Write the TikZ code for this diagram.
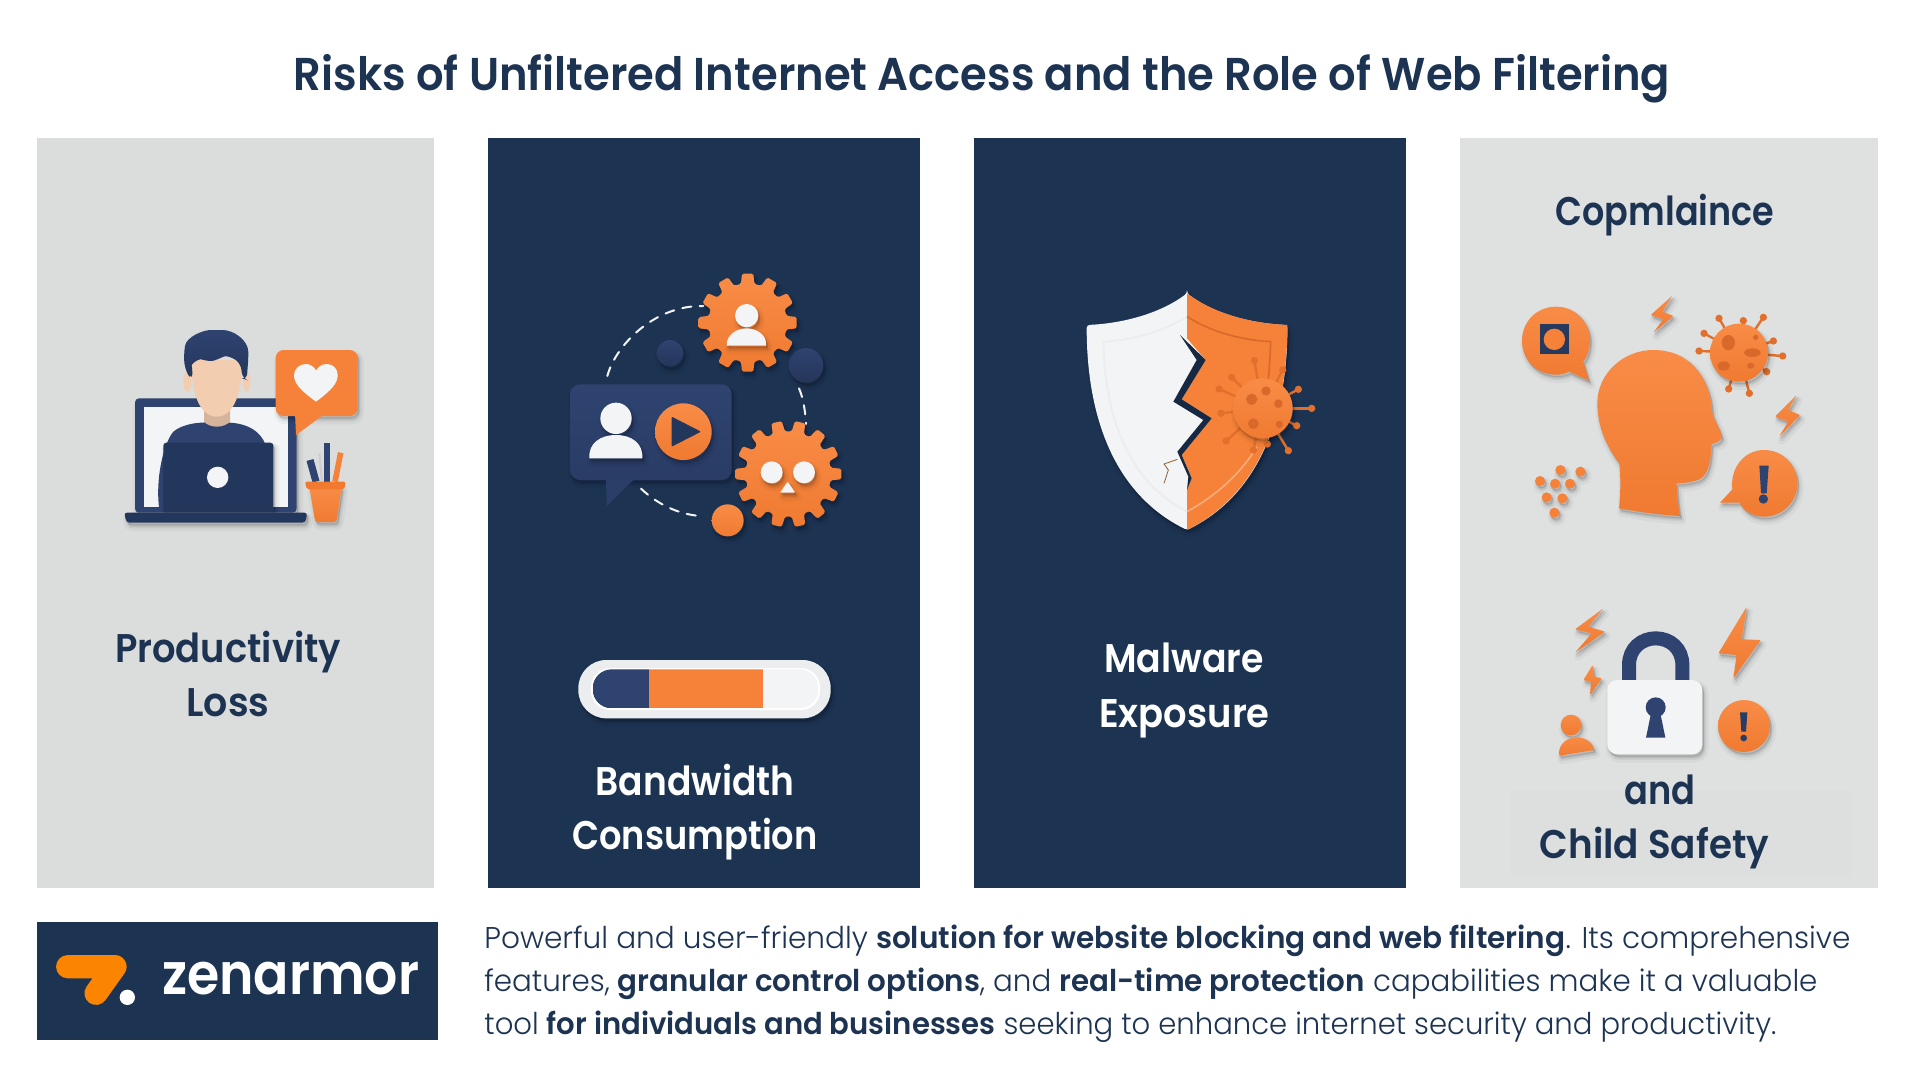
\documentclass[tikz,border=0pt]{standalone}
\usepackage{fontspec}
\setmainfont{Poppins}[BoldFont={Poppins SemiBold}]
\newfontfamily\headf{Poppins SemiBold}
\newfontfamily\bodyf{Poppins Light}[BoldFont={Poppins SemiBold}]
\definecolor{navy}{HTML}{1D3352}
\definecolor{iconblue}{HTML}{2E4370}
\definecolor{iconblueB}{HTML}{23365C}
\definecolor{panelgrey}{HTML}{DBDCDC}
\definecolor{panelgreyL}{HTML}{DFE0E0}
\definecolor{panelgreyM}{HTML}{DDDEDE}
\definecolor{org}{HTML}{F58238}
\definecolor{orgT}{HTML}{F88C47}
\definecolor{orgB}{HTML}{F07A30}
\definecolor{orgD}{HTML}{D9692A}
\definecolor{orgS}{HTML}{E2702C}
\definecolor{logoorg}{HTML}{FB8500}
\definecolor{wht}{HTML}{F3F4F5}
\definecolor{peach}{HTML}{F2CDB0}
\newcommand{\fitw}[2]{\resizebox{#1}{\height}{#2}}
\tikzset{
 zm/.style 2 args={shift={(#1,#2)},x=0.16667pt,y=-0.16667pt},
 soft/.style={
  preaction={transform canvas={xshift=1.2pt,yshift=-2.2pt},draw=black,fill=black,opacity=.035,line width=4pt,line join=round},
  preaction={transform canvas={xshift=1pt,yshift=-1.8pt},draw=black,fill=black,opacity=.05,line width=2pt,line join=round},
  preaction={transform canvas={xshift=.6pt,yshift=-1pt},draw=black,fill=black,opacity=.07,line width=.6pt,line join=round}},
 orgfill/.style={top color=orgT,bottom color=orgB},
 blufill/.style={top color=iconblue,bottom color=iconblueB},
 title/.style={inner sep=0pt,anchor=base,text=navy,font=\headf\fontsize{23pt}{28pt}\selectfont},
 label/.style={inner sep=0pt,anchor=base,font=\headf\fontsize{20pt}{25pt}\selectfont},
 bodyline/.style={inner sep=0pt,anchor=base west,text=navy,font=\bodyf\fontsize{15pt}{20pt}\selectfont},
 dashline/.style={draw=wht,line width=1pt,dash pattern=on 4.6pt off 4.2pt,line cap=round},
}
% gear: cx cy R r n options
\newcommand{\gear}[6]{%
 \pgfmathsetmacro{\gst}{360/#5}%
 \path[#6,rounded corners=.8pt,shift={(#1,#2)}] ({-.33*\gst}:#4)
  \foreach \gi in {1,...,#5}{ -- ({(\gi-1)*\gst-.33*\gst}:#4) -- ({(\gi-1)*\gst-.22*\gst}:#3) -- ({(\gi-1)*\gst+.22*\gst}:#3) -- ({(\gi-1)*\gst+.33*\gst}:#4)} -- cycle;}
\newcommand{\spike}[4]{\draw[orgS,line width=1.2pt] (#1,#2) -- (#3,#4); \fill[orgS] (#3,#4) circle (11);}
\begin{document}
\begin{tikzpicture}[x=0.5pt,y=-0.5pt]
\useasboundingbox (0,0) rectangle (1920,1080);
\fill[white] (0,0) rectangle (1920,1080);
% panels
\fill[panelgrey] (37,138) rectangle (433.5,888);
\fill[navy] (488,138) rectangle (920,888);
\fill[navy] (973.5,138) rectangle (1406,888);
\fill[panelgreyL] (1460,138) rectangle (1878,888);
\fill[panelgreyM] (1510,790) rectangle (1852,875);
% title
\node[title] (ttl) at (982,91) {\fitw{688pt}{Risks of Unfiltered Internet Access and the Role of Web Filtering}};
% panel labels
\node[label,text=navy] (p1a) at (228,662) {\fitw{113pt}{Productivity}};
\node[label,text=navy] (p1b) at (228,716) {\fitw{41.5pt}{Loss}};
\node[label,text=white] (p2a) at (695,795) {\fitw{99.3pt}{Bandwidth}};
\node[label,text=white] (p2b) at (695,849) {\fitw{122.5pt}{Consumption}};
\node[label,text=white] (p3a) at (1184,672) {\fitw{79.7pt}{Malware}};
\node[label,text=white] (p3b) at (1184.5,727) {\fitw{85.2pt}{Exposure}};
\node[label,text=navy] (p4a) at (1665,226) {\fitw{109.2pt}{Copmlaince}};
\node[label,text=navy] (p4b) at (1660,804) {\fitw{35.5pt}{and}};
\node[label,text=navy] (p4c) at (1654.5,858) {\fitw{114.6pt}{Child Safety}};
% logo
\fill[navy] (37,922) rectangle (438,1040);
\begin{scope}[zm={20}{910}]
\draw[logoorg,line width=11.6pt,line cap=round,line join=round] (143,170) -- (285,170) -- (228,250);
\fill[white] (322,262) circle (23);
\node[inner sep=0pt,anchor=south west,text=white,font=\headf\fontsize{29pt}{30pt}\selectfont] (logo) at (425,257) {\resizebox{128.6pt}{16.2pt}{zenarmor}};
\end{scope}
% body text
\node[bodyline] (l1) at (484,948) {\fitw{683pt}{Powerful and user-friendly \textbf{solution for website blocking and web filtering}. Its comprehensive}};
\node[bodyline] (l2) at (484,991) {\fitw{666.5pt}{features, \textbf{granular control options}, and \textbf{real-time protection} capabilities make it a valuable}};
\node[bodyline] (l3) at (484,1034) {\fitw{646pt}{tool \textbf{for individuals and businesses} seeking to enhance internet security and productivity.}};
% ---------- icon 1
\begin{scope}[zm={0}{280}]
\path[soft,fill=iconblue,rounded corners=2pt] (405,698) -- (405,355) -- (890,355) -- (890,698) -- cycle;
\fill[wht] (432,382) rectangle (864,682);
% person
\path[fill=iconblue] (478,690) .. controls (465,600) and (490,490) .. (520,455) .. controls (550,430) and (600,425) .. (650,428) .. controls (700,425) and (760,430) .. (790,480) .. controls (815,530) and (825,620) .. (815,690) -- cycle;
\fill[peach!88!black] (612,380) -- (690,380) -- (690,425) .. controls (670,445) and (630,445) .. (612,425) -- cycle;
\fill[peach] (562,305) ellipse (12 and 30);
\fill[peach] (740,305) ellipse (12 and 30);
\path[fill=peach] (575,240) .. controls (572,340) and (600,410) .. (650,410) .. controls (700,410) and (728,340) .. (725,240) -- cycle;
\path[top color=iconblue,bottom color=iconblueB,rounded corners=3pt] (572,300) -- (553,260) -- (552,215) .. controls (560,170) and (610,150) .. (650,150) .. controls (700,150) and (745,180) .. (745,235) -- (740,300) -- (727,295) -- (722,250) .. controls (700,235) and (680,225) .. (655,238) .. controls (630,245) and (600,238) .. (585,240) .. controls (575,255) and (578,280) .. (572,300) -- cycle;
\path[soft,fill=iconblueB,rounded corners=1.5pt] (490,695) -- (490,488) -- (820,488) -- (820,695) -- cycle;
\fill[wht] (653,592) circle (32);
\path[soft,fill=iconblueB,rounded corners=1.5pt] (372,698) -- (922,698) -- (916,728) -- (380,728) -- cycle;
% bubble
\path[soft,fill=org,rounded corners=4pt] (885,408) -- (827,408) -- (827,210) -- (1073,210) -- (1073,408) -- (965,408) -- cycle;
\path[fill=org] (885,400) -- (960,400) -- (965,408) -- (888,465) -- cycle;
\path[fill=wht] (948,365) .. controls (900,330) and (882,310) .. (882,285) .. controls (882,265) and (900,252) .. (918,252) .. controls (932,252) and (944,262) .. (948,272) .. controls (952,262) and (965,252) .. (980,252) .. controls (998,252) and (1013,265) .. (1013,285) .. controls (1013,310) and (995,330) .. (948,365) -- cycle;
% pencils
\draw[iconblue,line width=3.6pt] (930,540) -- (948,605);
\draw[wht!85!black,line width=1.1pt] (958,520) -- (966,605);
\draw[iconblue,line width=3.2pt] (981,490) -- (981,605);
\draw[org,line width=2.8pt] (1022,518) -- (1005,605);
\path[soft,orgfill] (928,620) -- (1025,620) -- (1011,716) .. controls (1010,724) and (1005,726) .. (1000,726) -- (955,726) .. controls (948,726) and (945,722) .. (944,716) -- cycle;
\path[fill=orgB,rounded corners=1pt] (915,605) -- (1037,605) -- (1033,628) -- (920,628) -- cycle;
\end{scope}
% ---------- icon 2
\begin{scope}[zm={520}{250}]
\draw[dashline] (262,378) .. controls (285,290) and (400,165) .. (550,168);
\draw[dashline] (837,415) .. controls (850,445) and (856,485) .. (858,522);
\draw[dashline] (363,716) .. controls (410,760) and (470,792) .. (540,798);
\path[soft,top color=iconblue,bottom color=iconblue!80!black] (450,310) circle (40);
\path[soft,top color=iconblue,bottom color=iconblue!80!black] (858,346) circle (52);
\path[soft,orgfill] (623,811) circle (48);
\path[soft,top color=iconblue,bottom color=iconblue!90!black,rounded corners=5pt] (258,690) -- (150,690) -- (150,403) -- (635,403) -- (635,690) -- (400,690) -- cycle;
\path[fill=iconblue!92!black] (258,685) -- (345,685) -- (260,768) -- cycle;
\path[soft,fill=wht] (288,505) circle (47);
\path[soft,fill=wht] (208,625) .. controls (205,580) and (240,555) .. (288,555) .. controls (335,555) and (370,580) .. (367,625) -- cycle;
\path[soft,orgfill] (490,545) circle (85);
\path[fill=iconblueB,rounded corners=.5pt] (455,500) -- (543,545) -- (455,590) -- cycle;
\gear{683}{218}{148}{118}{12}{soft,orgfill}
\path[soft,fill=wht] (680,197) circle (35);
\path[soft,fill=wht] (620,287) .. controls (618,255) and (650,235) .. (680,235) .. controls (710,235) and (742,255) .. (738,287) -- cycle;
\gear{805}{672}{160}{128}{14}{soft,orgfill}
\path[soft,fill=wht] (755,667) circle (33);
\path[soft,fill=wht] (852,667) circle (33);
\path[soft,fill=wht,rounded corners=.5pt] (803,695) -- (826,728) -- (780,728) -- cycle;
\end{scope}
% ---------- bandwidth bar
\begin{scope}[zm={560}{640}]
\path[soft,fill=wht!97!black,rounded corners=14pt] (55,60) rectangle (812,235);
\fill[white,rounded corners=9.5pt] (93,84) rectangle (780,210);
\begin{scope}
\path[clip,rounded corners=9.5pt] (98,88) rectangle (775,205);
\fill[iconblue] (98,88) rectangle (268,205);
\fill[org] (268,88) rectangle (610,205);
\fill[wht] (610,88) rectangle (775,205);
\end{scope}
\end{scope}
% ---------- icon 3
\begin{scope}[zm={1040}{270}]
\path[soft,fill=wht,rounded corners=1.5pt] (441,70) .. controls (360,130) and (250,160) .. (140,165) .. controls (140,400) and (200,660) .. (441,780) .. controls (680,660) and (742,400) .. (742,165) .. controls (630,160) and (520,130) .. (441,70) -- cycle;
\begin{scope}
\clip (441,70) .. controls (360,130) and (250,160) .. (140,165) .. controls (140,400) and (200,660) .. (441,780) .. controls (680,660) and (742,400) .. (742,165) .. controls (630,160) and (520,130) .. (441,70) -- cycle;
\fill[org] (441,60) -- (441,205) -- (497,270) -- (425,388) -- (515,445) -- (425,555) -- (455,625) -- (441,660) -- (441,790) -- (760,790) -- (760,60) -- cycle;
\fill[navy!80!black] (420,195) -- (497,270) -- (425,388) -- (515,445) -- (425,555) -- (455,625) -- (441,660) -- (445,620) -- (412,545) -- (490,450) -- (400,395) -- (470,270) -- cycle;
\end{scope}
\draw[black!7,line width=1pt] (441,140) .. controls (360,190) and (270,210) .. (190,215) .. controls (195,400) and (240,620) .. (441,725);
\draw[orgD,line width=.8pt] (441,140) .. controls (520,190) and (610,210) .. (692,215) .. controls (688,330) and (675,430) .. (660,500);
\draw[orgT!70!white,line width=.8pt] (441,725) .. controls (540,670) and (610,600) .. (650,530);
\draw[brown!75!black,line width=.4pt] (412,568) -- (372,582) -- (385,600) -- (372,640);
\foreach \ex/\ey in {643/272,728/300,775/358,815/415,770/467,745/542,640/540,558/513,543/430,537/357,575/322,682/522}{\spike{668}{415}{\ex}{\ey}}
\path[soft,orgfill] (668,415) circle (90);
\fill[orgD] (635,388) circle (17);
\fill[orgD] (678,363) circle (14);
\fill[orgD] (715,401) circle (13);
\fill[orgD] (640,461) circle (16);
\fill[orgD] (718,463) circle (11);
\end{scope}
% ---------- icon 4
\begin{scope}[zm={1500}{280}]
\path[soft,orgfill] (168,80) .. controls (225,80) and (270,125) .. (270,182) .. controls (270,210) and (258,235) .. (250,245) -- (267,302) -- (208,275) .. controls (195,282) and (180,284) .. (168,284) .. controls (110,284) and (66,240) .. (66,182) .. controls (66,125) and (110,80) .. (168,80) -- cycle;
\fill[iconblue!85!black] (120,133) rectangle (208,223);
\fill[org] (163,178) circle (32);
\path[soft,orgfill,rounded corners=.5pt] (517,47) -- (452,105) -- (490,118) -- (460,158) -- (520,108) -- (487,95) -- cycle;
\path[soft,orgfill,rounded corners=.5pt] (890,345) -- (825,410) -- (865,425) -- (837,470) -- (900,405) -- (865,390) -- cycle;
\foreach \ex/\ey in {657/115,730/122,790/112,820/183,848/228,800/275,748/340,686/327,597/213,612/160}{\spike{717}{218}{\ex}{\ey}}
\path[soft,orgfill] (717,218) circle (87);
\fill[orgD] (685,188) ellipse (20 and 23);
\fill[orgD] (757,218) ellipse (25 and 13);
\fill[orgD] (671,258) ellipse (19 and 14);
\fill[orgD] (752,257) ellipse (11 and 9);
\fill[orgD] (767,172) circle (8);
\path[soft,orgfill] (357,685) .. controls (362,640) and (362,590) .. (358,550) .. controls (320,500) and (292,440) .. (292,370) .. controls (292,280) and (370,210) .. (460,210) .. controls (560,210) and (630,280) .. (637,400) .. controls (645,425) and (660,445) .. (666,472) .. controls (660,485) and (645,490) .. (635,492) .. controls (632,530) and (630,580) .. (600,597) .. controls (580,606) and (550,610) .. (530,610) .. controls (530,640) and (535,680) .. (540,708) .. controls (480,705) and (410,695) .. (357,685) -- cycle;
\path[soft,orgfill] (792,510) .. controls (848,510) and (892,555) .. (892,610) .. controls (892,665) and (848,710) .. (792,710) .. controls (760,710) and (735,695) .. (718,668) -- (660,668) -- (697,628) .. controls (690,560) and (735,510) .. (792,510) -- cycle;
\fill[iconblue] (778,557) -- (806,557) -- (800,640) -- (783,640) -- cycle;
\fill[iconblue] (790,657) circle (14);
\foreach \dx/\dy in {181/570,241/575,120/603,165/611,210/611,140/652,187/655,163/698}{\path[soft,fill=org] (\dx,\dy) circle (15);}
\end{scope}
% ---------- lock
\begin{scope}[zm={1520}{590}]
\draw[iconblue,line width=7pt] (327,275) -- (327,225) .. controls (327,175) and (365,145) .. (407,145) .. controls (450,145) and (487,175) .. (487,225) -- (487,275);
\path[soft,fill=wht,rounded corners=5pt] (262,270) rectangle (547,493);
\fill[iconblue] (407,352) circle (30);
\fill[iconblue] (395,360) -- (419,360) -- (436,443) -- (378,443) -- cycle;
\path[soft,orgfill,rounded corners=.5pt] (250,55) -- (165,118) -- (215,130) -- (165,188) -- (255,125) -- (205,110) -- cycle;
\path[soft,orgfill,rounded corners=.5pt] (218,225) -- (190,270) -- (213,275) -- (210,315) -- (245,265) -- (222,260) -- cycle;
\path[soft,orgfill,rounded corners=.5pt] (680,50) -- (595,190) -- (650,195) -- (640,265) -- (722,150) -- (665,148) -- cycle;
\path[soft,orgfill] (153,405) circle (31);
\path[soft,orgfill] (118,497) .. controls (112,465) and (140,442) .. (170,442) .. controls (195,442) and (218,455) .. (222,480) -- cycle;
\path[soft,orgfill] (672,408) circle (78);
\fill[iconblue!90!black] (660,367) -- (682,367) -- (678,425) -- (664,425) -- cycle;
\fill[iconblue!90!black] (671,444) circle (10);
\end{scope}
\end{tikzpicture}
\end{document}
